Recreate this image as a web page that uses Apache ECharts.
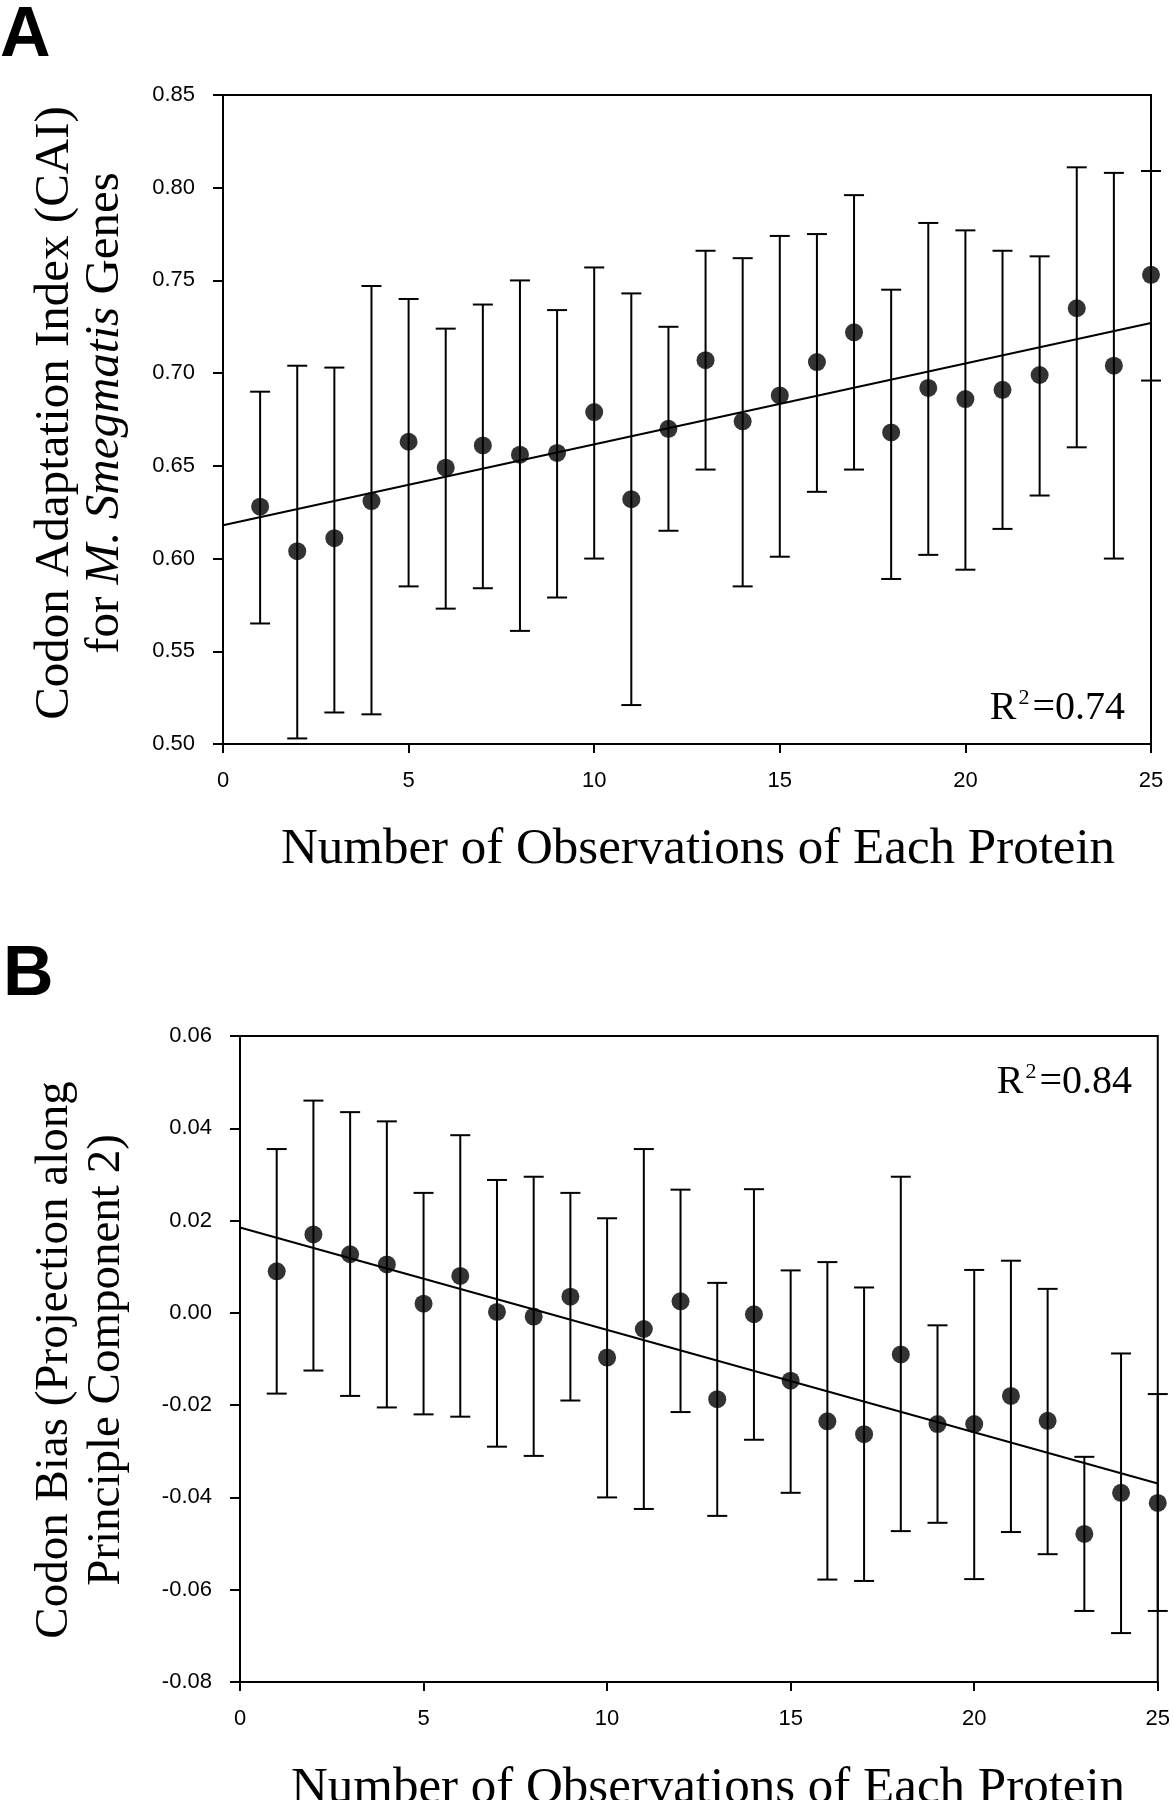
<!DOCTYPE html>
<html>
<head>
<meta charset="utf-8">
<script src="https://cdn.jsdelivr.net/npm/echarts@6/dist/echarts.min.js"></script>
<style>
html,body{margin:0;padding:0;background:#fff;}
#chart{width:1173px;height:1800px;}
</style>
</head>
<body>
<div id="chart"></div>
<script>
// ---------- data ----------
const obsX = [1,2,3,4,5,6,7,8,9,10,11,12,13,14,15,16,17,18,19,20,21,22,23,24,25];

// Panel A: CAI
const caiMean  = [0.628,0.604,0.611,0.631,0.663,0.649,0.661,0.656,0.657,0.679,0.632,0.670,0.707,0.674,0.688,0.706,0.722,0.668,0.692,0.686,0.691,0.699,0.735,0.704,0.753];
const caiUpper = [0.690,0.704,0.703,0.747,0.740,0.724,0.737,0.750,0.734,0.757,0.743,0.725,0.766,0.762,0.774,0.775,0.796,0.745,0.781,0.777,0.766,0.763,0.811,0.808,0.809];
const caiLower = [0.565,0.503,0.517,0.516,0.585,0.573,0.584,0.561,0.579,0.600,0.521,0.615,0.648,0.585,0.601,0.636,0.648,0.589,0.602,0.594,0.616,0.634,0.660,0.600,0.696];
const caiFitX = [0, 25];
const caiFitY = [0.618, 0.727];
const caiR2 = '0.74';

// Panel B: codon bias
const biasMean  = [0.0090,0.0170,0.0127,0.0105,0.0020,0.0080,0.0002,-0.0008,0.0035,-0.0097,-0.0035,0.0025,-0.0187,-0.0003,-0.0147,-0.0235,-0.0263,-0.0090,-0.0241,-0.0241,-0.0180,-0.0234,-0.0479,-0.0390,-0.0412];
const biasUpper = [0.0355,0.0460,0.0435,0.0415,0.0260,0.0385,0.0288,0.0295,0.0260,0.0205,0.0355,0.0267,0.0065,0.0268,0.0092,0.0110,0.0055,0.0295,-0.0027,0.0093,0.0113,0.0052,-0.0312,-0.0088,-0.0176];
const biasLower = [-0.0175,-0.0125,-0.0180,-0.0205,-0.0220,-0.0225,-0.0290,-0.0310,-0.0190,-0.0400,-0.0425,-0.0215,-0.0440,-0.0275,-0.0390,-0.0578,-0.0581,-0.0473,-0.0455,-0.0577,-0.0475,-0.0523,-0.0646,-0.0694,-0.0646];
const biasFitX = [0, 25];
const biasFitY = [0.0185, -0.0370];
const biasR2 = '0.84';

// ticks
const xTicks = {min:0, max:25, interval:5};
const yTicksA = {min:0.50, max:0.85, interval:0.05};
const yTicksB = {min:-0.08, max:0.06, interval:0.02};

// ---------- chart ----------
const chart = echarts.init(document.getElementById('chart'), null, {renderer:'canvas'});
const SANS = '"Liberation Sans", Arial, sans-serif';
const SERIF = '"Liberation Serif", "Times New Roman", serif';

function errData(lo, hi) { return obsX.map((x,i)=>[x, lo[i], hi[i]]); }
function pts(y) { return obsX.map((x,i)=>[x, y[i]]); }
function fit(xs, ys) { return xs.map((x,i)=>[x, ys[i]]); }

function errRender(params, api) {
  const x = api.value(0), lo = api.value(1), hi = api.value(2);
  const a = api.coord([x, lo]), b = api.coord([x, hi]);
  const hw = 10;
  const st = {stroke:'#000', lineWidth:2};
  return {type:'group', children:[
    {type:'line', shape:{x1:a[0], y1:a[1], x2:b[0], y2:b[1]}, style:st},
    {type:'line', shape:{x1:a[0]-hw, y1:a[1], x2:a[0]+hw, y2:a[1]}, style:st},
    {type:'line', shape:{x1:b[0]-hw, y1:b[1], x2:b[0]+hw, y2:b[1]}, style:st}
  ]};
}

function xAxis(gi) {
  return {
    gridIndex: gi, type:'value', min:xTicks.min, max:xTicks.max, interval:xTicks.interval,
    axisLine:{show:true, onZero:false, lineStyle:{color:'#000', width:2}},
    axisTick:{show:true, inside:false, length:9, lineStyle:{color:'#000', width:2}},
    axisLabel:{color:'#000', fontFamily:SANS, fontSize:22, margin:26},
    splitLine:{show:false}
  };
}
function yAxis(gi, t) {
  return {
    gridIndex: gi, type:'value', min:t.min, max:t.max, interval:t.interval,
    axisLine:{show:true, onZero:false, lineStyle:{color:'#000', width:2}},
    axisTick:{show:true, inside:false, length:10, lineStyle:{color:'#000', width:2}},
    axisLabel:{color:'#000', fontFamily:SANS, fontSize:22, margin:28,
      formatter: v => v.toFixed(2)},
    splitLine:{show:false}
  };
}

function r2Text(x, y, val) {
  return {type:'text', x:x, y:y, style:{
    text:'R{s|2}=' + val,
    font:'40px ' + SERIF, fill:'#000', align:'right', verticalAlign:'middle', lineHeight:42,
    rich:{s:{fontSize:22, fontFamily:SERIF, fill:'#000', lineHeight:30, verticalAlign:'top', padding:[0,3,0,2]}}
  }};
}

const option = {
  backgroundColor:'#fff',
  animation:false,
  grid:[
    {left:223, top:95, width:928, height:649, show:true, borderColor:'#000', borderWidth:2, backgroundColor:'transparent'},
    {left:240, top:1036, width:922, height:646, show:true, borderColor:'#000', borderWidth:2, backgroundColor:'transparent'}
  ],
  xAxis:[xAxis(0), xAxis(1)],
  yAxis:[yAxis(0, yTicksA), yAxis(1, yTicksB)],
  series:[
    {type:'line', xAxisIndex:0, yAxisIndex:0, data:fit(caiFitX, caiFitY), symbol:'none',
      lineStyle:{color:'#000', width:2}, z:2},
    {type:'custom', xAxisIndex:0, yAxisIndex:0, data:errData(caiLower, caiUpper), renderItem:errRender, clip:false, z:3},
    {type:'scatter', xAxisIndex:0, yAxisIndex:0, data:pts(caiMean), symbol:'circle', symbolSize:18,
      itemStyle:{color:'#000'}, clip:false, z:4},
    {type:'line', xAxisIndex:1, yAxisIndex:1, data:fit(biasFitX, biasFitY), symbol:'none',
      lineStyle:{color:'#000', width:2}, z:2},
    {type:'custom', xAxisIndex:1, yAxisIndex:1, data:errData(biasLower, biasUpper), renderItem:errRender, clip:false, z:3},
    {type:'scatter', xAxisIndex:1, yAxisIndex:1, data:pts(biasMean), symbol:'circle', symbolSize:18,
      itemStyle:{color:'#000'}, clip:false, z:4}
  ],
  graphic:[
    {type:'text', x:0, y:2, style:{text:'A', font:'bold 70px ' + SANS, fill:'#000', align:'left', verticalAlign:'top'}},
    {type:'text', x:3, y:941, style:{text:'B', font:'bold 70px ' + SANS, fill:'#000', align:'left', verticalAlign:'top'}},
    {type:'text', x:698, y:850, style:{text:'Number of Observations of Each Protein', font:'51px ' + SERIF, fill:'#000', align:'center', verticalAlign:'middle'}},
    {type:'text', x:708, y:1789, style:{text:'Number of Observations of Each Protein', font:'51px ' + SERIF, fill:'#000', align:'center', verticalAlign:'middle'}},
    {type:'text', x:80, y:413, rotation:Math.PI/2, style:{
      text:'Codon Adaptation Index (CAI)\nfor {i|M. Smegmatis} Genes',
      font:'49px ' + SERIF, fill:'#000', align:'center', verticalAlign:'middle', lineHeight:50,
      rich:{i:{fontStyle:'italic', fontSize:49, fontFamily:SERIF, fill:'#000', lineHeight:50}}
    }},
    {type:'text', x:81, y:1360, rotation:Math.PI/2, style:{
      text:'Codon Bias (Projection along\nPrinciple Component 2)',
      font:'47px ' + SERIF, fill:'#000', align:'center', verticalAlign:'middle', lineHeight:52
    }},
    r2Text(1125, 708, caiR2),
    r2Text(1132, 1082, biasR2)
  ]
};
chart.setOption(option);
</script>
</body>
</html>
